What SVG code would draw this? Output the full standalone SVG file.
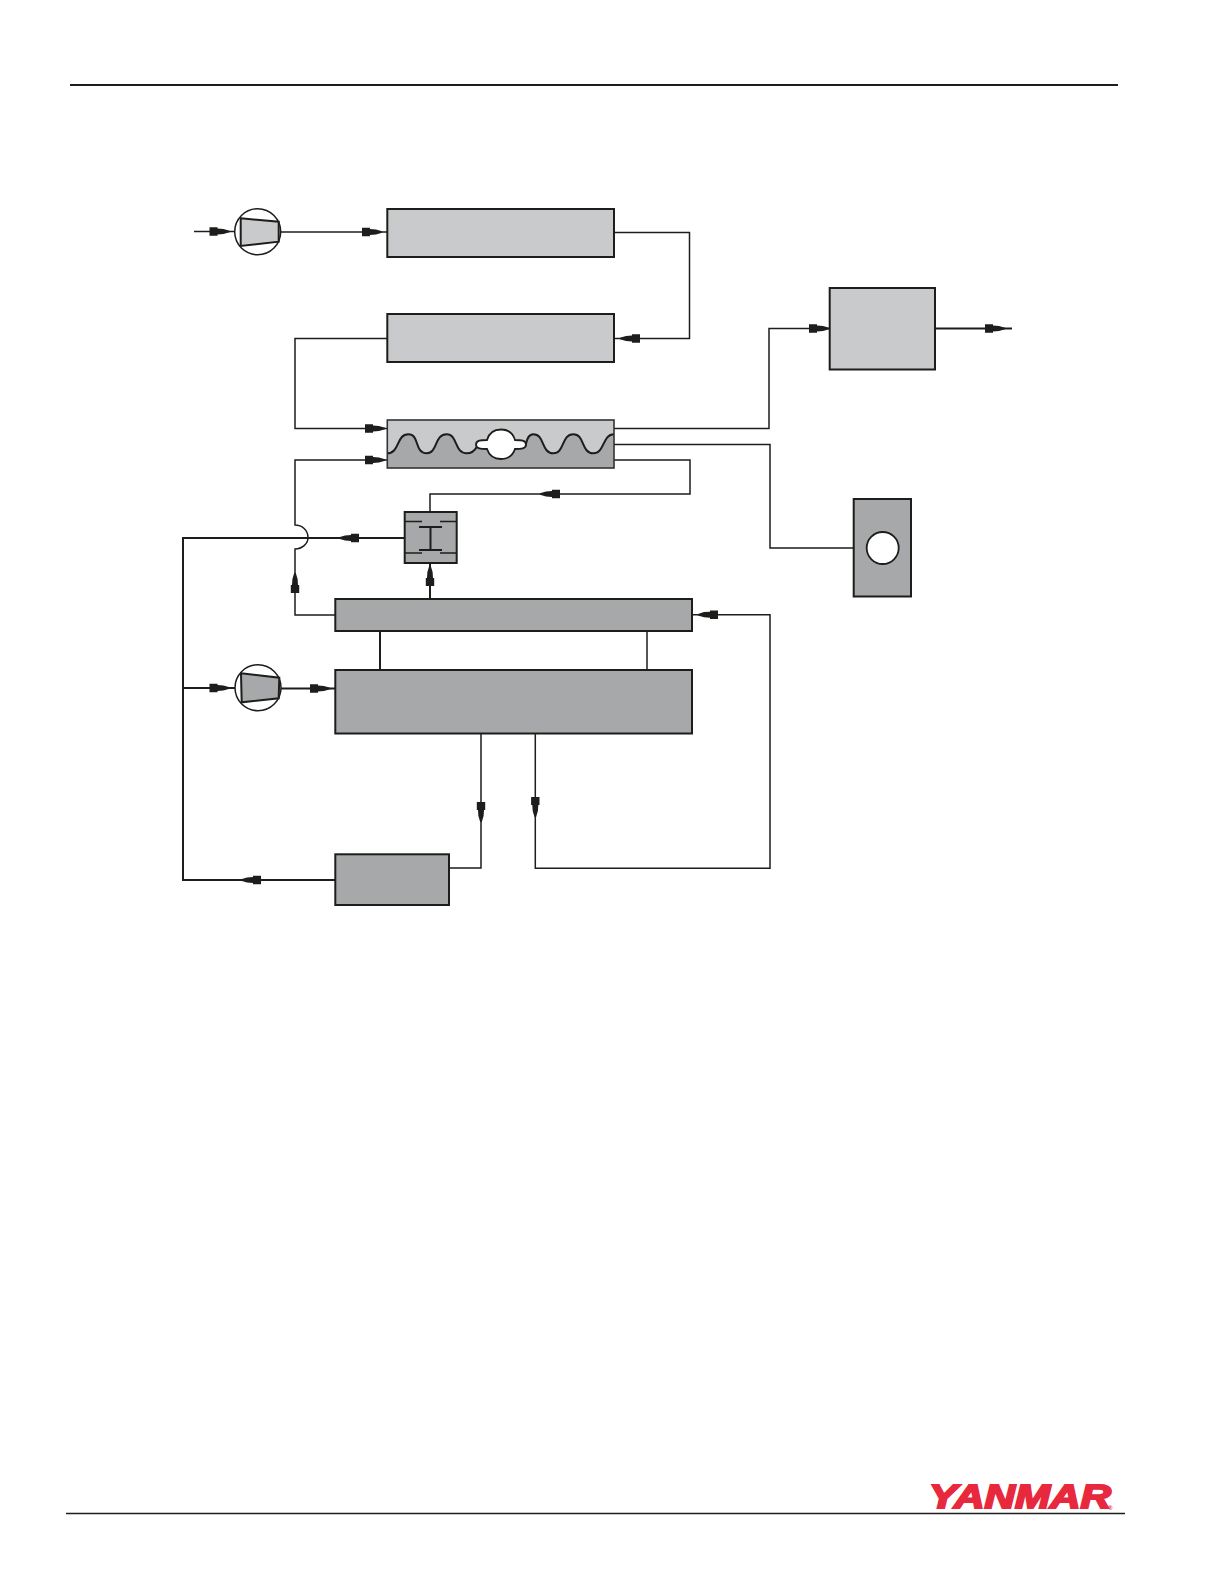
<svg xmlns="http://www.w3.org/2000/svg" width="1224" height="1584" viewBox="0 0 1224 1584">
<style>
.l{fill:#c9cacb;stroke:#1d1d1b;stroke-width:2}
.d{fill:#a6a8a9;stroke:#1d1d1b;stroke-width:2}
.w{fill:#fff;stroke:#1d1d1b;stroke-width:1.8}
.c{fill:none;stroke:#1d1d1b;stroke-width:1.5}
.t{stroke-width:2}
.r{fill:none;stroke:#1d1d1b}
.logo{font-family:"Liberation Sans",Arial,sans-serif;font-weight:700;font-style:italic;fill:#e8283c}
</style>
<defs>
<path id="a" fill="#1d1d1b" d="M-20,-4.2L-12,-4.2L-12,-3L-6,-2.6L0,-.8L0,.8L-6,2.6L-12,3L-12,4.200L-20,4.200Z"/>
</defs>
<rect width="1224" height="1584" fill="#fff"/>
<g id="page-rules">
<path class="r" stroke-width="2" d="M70,85H1118"/>
<path class="r" stroke-width="1.4" d="M66,1513.500H1125"/>
</g>
<g id="connectors">
<path class="c" d="M194,231.500H235"/>
<path class="c" d="M280,232H387"/>
<path class="c" d="M614,232.500H689.500V338.500H614"/>
<path class="c" d="M387,338.500H295V428.500H387"/>
<path class="c" d="M614,428.500H769V328.500H830"/>
<path class="c t" d="M935,328.500H1012"/>
<path class="c" d="M614,444.500H770V548H854"/>
<path class="c" d="M614,460H690V494H430V512"/>
<path class="c t" d="M405,538H183V880H335"/>
<path class="c" d="M387,460H295V525C302,525 308,530 308,537.500C308,544 302,549 295,549V615H335"/>
<path class="c t" d="M430,599V563"/>
<path class="c t" d="M380,631V670"/>
<path class="c" d="M647,631V670"/>
<path class="c t" d="M183,688H235"/>
<path class="c t" d="M281,688.500H335"/>
<path class="c" d="M481,733V868H449"/>
<path class="c" d="M535.300,733V868.300H770V614.700H692"/>
<use href="#a" transform="translate(229.500,231.500)"/>
<use href="#a" transform="translate(382,232)"/>
<use href="#a" transform="translate(620,338.500) rotate(180)"/>
<use href="#a" transform="translate(385,428.500)"/>
<use href="#a" transform="translate(829,328.500)"/>
<use href="#a" transform="translate(1005,328.500)"/>
<use href="#a" transform="translate(540,494) rotate(180)"/>
<use href="#a" transform="translate(339,538) rotate(180)"/>
<use href="#a" transform="translate(385,460)"/>
<use href="#a" transform="translate(295,573) rotate(-90)"/>
<use href="#a" transform="translate(430,566) rotate(-90)"/>
<use href="#a" transform="translate(229.500,688)"/>
<use href="#a" transform="translate(330,688.500)"/>
<use href="#a" transform="translate(481,822) rotate(90)"/>
<use href="#a" transform="translate(535.300,817) rotate(90)"/>
<use href="#a" transform="translate(698,614.700) rotate(180)"/>
<use href="#a" transform="translate(241,880) rotate(180)"/>
</g>
<g id="pump-top">
<circle class="c" cx="257.700" cy="231.700" r="23" fill="#fff"/>
<path class="l" d="M240.700,218.300L278.700,221.700V241.700L240.700,246Z"/>
</g>
<g id="box-top"><rect class="l" x="387.300" y="209" width="226.700" height="48"/></g>
<g id="box-second"><rect class="l" x="387.300" y="314" width="226.700" height="48"/></g>
<g id="box-right"><rect class="l" x="829.700" y="288" width="105.300" height="81.500"/></g>
<g id="gauge">
<rect class="d" x="853.700" y="499" width="57.300" height="97.500"/>
<circle class="w" cx="882.700" cy="548" r="16"/>
</g>
<g id="wave-box">
<rect x="387.300" y="420" width="226.700" height="48" fill="#a6a8a9"/>
<path fill="#c9cacb" d="M387.300,420H614V434.300C602,434.300 605,453.300 593.300,453.300C581,453.300 585,434.300 573.300,434.300C561,434.300 565,453.300 553.300,453.300C541,453.300 545,434.300 533.300,434.300C528,434.300 527,440 525,447H476.700C474,452 470,453.300 466.700,453.300C454,453.300 458,434.300 446.700,434.300C434,434.300 438,453.300 426.700,453.300C414,453.300 420,434.300 408.300,434.300C396,434.300 400,453.300 387.300,453.300Z"/>
<path class="c t" d="M387.300,453.300C400,453.300 396,434.300 408.300,434.300C420,434.300 414,453.300 426.700,453.300C438,453.300 434,434.300 446.700,434.300C458,434.300 454,453.300 466.700,453.300C470,453.300 474,452 476.700,447"/>
<path class="c t" d="M525,447C527,440 528,434.300 533.300,434.300C545,434.300 541,453.300 553.300,453.300C565,453.300 561,434.300 573.300,434.300C585,434.300 581,453.300 593.300,453.300C605,453.300 602,434.300 614,434.300"/>
<path class="w" d="M476,444.500C476,440 481,440 487,440C489,433 494,429.500 501,429.500C508,429.500 513,433 515,440C521,440 526,440 526,444.500C526,449 521,449 515,449C513,455 508,459 501,459C494,459 489,455 487,449C481,449 476,449 476,444.500Z"/>
<rect x="387.300" y="420" width="226.700" height="48" fill="none" stroke="#333" stroke-width="1.6"/>
</g>
<g id="filter">
<rect class="d" x="404.700" y="512" width="52" height="51"/>
<path class="c" d="M405,521.500H422M440,521.500H457M405,553H422M440,553H457"/>
<path class="c t" d="M419,527H442M419,550H442M430.500,527V550"/>
</g>
<g id="cooler"><rect class="d" x="335.300" y="599" width="356.700" height="32"/></g>
<g id="engine"><rect class="d" x="335.300" y="670" width="356.700" height="63.500"/></g>
<g id="pump-low">
<circle class="c" cx="258" cy="687.700" r="23" fill="#fff"/>
<path class="d" d="M241,673.300L279.300,677.700L278.700,698.300L241.700,702.300Z"/>
</g>
<g id="box-low"><rect class="d" x="335.300" y="854.300" width="113.700" height="50.700"/></g>
<g id="logo">
<text class="logo" x="929" y="1508" font-size="34" textLength="182" lengthAdjust="spacingAndGlyphs" stroke="#e8283c" stroke-width="2">YANMAR</text>
<text class="logo" x="1108" y="1510" font-size="6">®</text>
</g>
</svg>
